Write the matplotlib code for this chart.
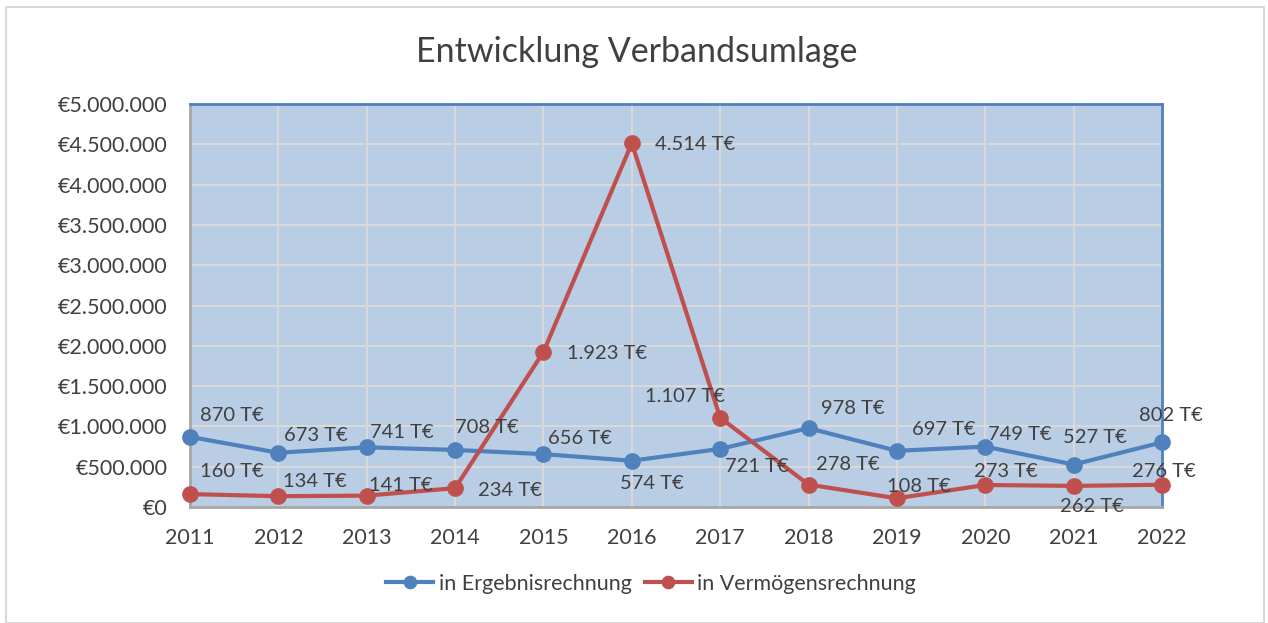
import numpy as np
import matplotlib.pyplot as plt
from matplotlib.patches import Rectangle
from matplotlib.ticker import FuncFormatter

plt.rcParams['font.family'] = ['Lato', 'DejaVu Sans']

# Data (values in EUR)
years = [2011, 2012, 2013, 2014, 2015, 2016, 2017, 2018, 2019, 2020, 2021, 2022]
ergebnis = [870000, 673000, 741000, 708000, 656000, 574000, 721000, 978000, 697000, 749000, 527000, 802000]
vermoegen = [160000, 134000, 141000, 234000, 1923000, 4514000, 1107000, 278000, 108000, 273000, 262000, 276000]
series_names = ['in Ergebnisrechnung', 'in Vermögensrechnung']

# label offsets in pixels (dx, dy), left aligned
off_blue = [(10, 21), (6, 17), (3, 15), (0, 22), (5, 16), (-12, -23), (5, -18),
            (12, 20), (15, 21), (3, 12), (-11, 27), (-23, 27)]
off_red = [(10, 23), (5, 15), (2, 10), (23, -2), (24, -1), (23, -1), (-75, 21),
           (7, 20), (-10, 12), (-11, 13), (-14, -21), (-30, 13)]

blue = '#4f81bd'
red = '#c0504d'
text_col = '#404040'

fig = plt.figure(figsize=(12.68, 6.23), dpi=100)
W, H = 1268, 623
ax = fig.add_axes([190 / W, 1 - 507 / H, (1162 - 190) / W, (507 - 104) / H])
ax.set_facecolor('#b9cde5')

# outer chart border
fig.patches.append(Rectangle((6 / W, 0), (1264 - 6) / W, 1 - 7 / H, transform=fig.transFigure,
                             fill=False, edgecolor='#d9d9d9', linewidth=1.5))

ax.plot(years, ergebnis, color=blue, linewidth=3, marker='o', markersize=11,
        label=series_names[0], clip_on=False, zorder=3)
ax.plot(years, vermoegen, color=red, linewidth=3, marker='o', markersize=11,
        label=series_names[1], clip_on=False, zorder=3)

def fmt_t(v):
    return f"{v / 1000:,.0f} T€".replace(',', '.')

for x, y, (dx, dy) in zip(years, ergebnis, off_blue):
    ax.annotate(fmt_t(y), (x, y), xytext=(dx, dy), textcoords='offset pixels',
                ha='left', va='center', fontsize=14.5, color=text_col, zorder=4,
                annotation_clip=False)
for x, y, (dx, dy) in zip(years, vermoegen, off_red):
    ax.annotate(fmt_t(y), (x, y), xytext=(dx, dy), textcoords='offset pixels',
                ha='left', va='center', fontsize=14.5, color=text_col, zorder=4,
                annotation_clip=False)

ax.set_xlim(2011, 2022)
ax.set_ylim(0, 5000000)
ax.set_xticks(years)
ax.set_yticks(np.arange(0, 5000001, 500000))
ax.yaxis.set_major_formatter(FuncFormatter(lambda v, p: f"€{v:,.0f}".replace(',', '.')))
ax.grid(True, color='#d9d9d9', linewidth=1.5)
ax.set_axisbelow(True)
ax.tick_params(length=0, labelsize=15.5, colors=text_col)
ax.tick_params(axis='x', pad=15)
ax.tick_params(axis='y', pad=16)

ax.spines['left'].set_color('#a6a6a6')
ax.spines['bottom'].set_color('#a6a6a6')
ax.spines['top'].set_color(blue)
ax.spines['right'].set_color(blue)
for s in ax.spines.values():
    s.set_linewidth(2)

fig.text(637 / W, 1 - 52 / H, 'Entwicklung Verbandsumlage', ha='center', va='center',
         fontsize=24.5, color=text_col)

fig.legend(loc='center', bbox_to_anchor=(651 / W, 1 - 584 / H), ncol=2, frameon=False,
           fontsize=15.5, handlelength=2.2, handletextpad=0.25, columnspacing=0.6,
           labelcolor=text_col, markerscale=0.8)

fig.savefig('out.png', dpi=100)
